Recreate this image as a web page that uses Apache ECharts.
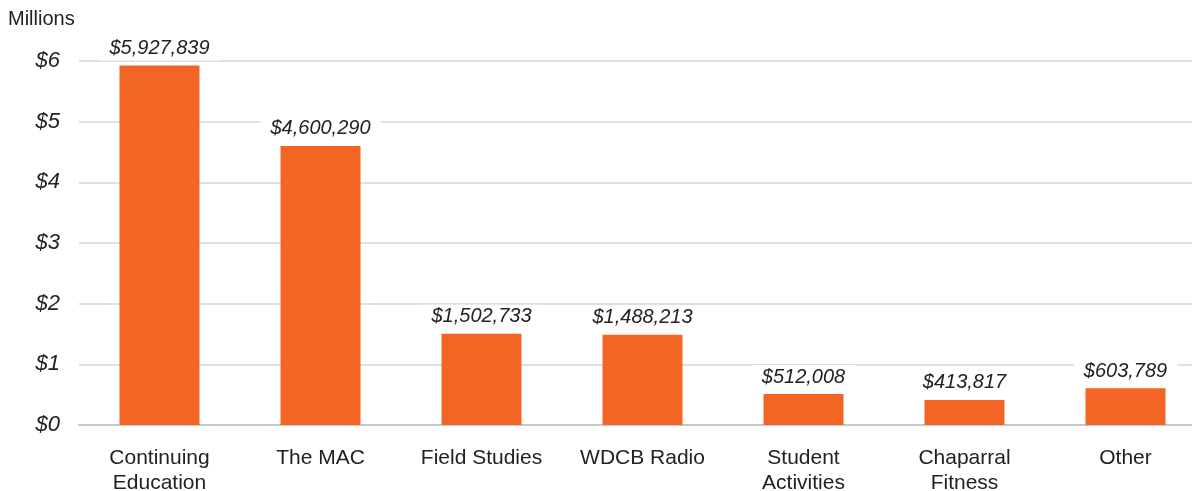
<!DOCTYPE html>
<html>
<head>
<meta charset="utf-8">
<style>
  html, body { margin: 0; height: 100%; background: #fff; }
  #chart { width: 1192px; height: 491px; }
</style>
</head>
<body>
<div id="chart"></div>
<script src="https://cdn.jsdelivr.net/npm/echarts@6/dist/echarts.min.js"></script>
<script>
// categories and amounts (USD)
var categories = ['Continuing\nEducation', 'The MAC', 'Field Studies', 'WDCB Radio', 'Student\nActivities', 'Chaparral\nFitness', 'Other'];
var amounts = [5927839, 4600290, 1502733, 1488213, 512008, 413817, 603789];
var yTicks = [0, 1000000, 2000000, 3000000, 4000000, 5000000, 6000000];

var font = '"Liberation Sans", Arial, sans-serif';
var chart = echarts.init(document.getElementById('chart'), null, { renderer: 'canvas' });

chart.setOption({
  animation: false,
  textStyle: { fontFamily: font },
  graphic: [{
    type: 'text', left: 8, top: 9,
    style: { text: 'Millions', fontSize: 20, fill: '#222', fontFamily: font }
  }],
  // plot runs past the right edge, as in the original
  grid: { left: 79, width: 1127, top: 61, height: 364, containLabel: false, outerBoundsMode: 'none' },
  xAxis: {
    type: 'category',
    data: categories,
    axisTick: { show: false },
    axisLine: { lineStyle: { color: '#c8c8c8', width: 2 } },
    axisLabel: { fontSize: 21, color: '#222', lineHeight: 25, margin: 21, interval: 0 }
  },
  yAxis: {
    type: 'value',
    min: 0,
    max: yTicks[yTicks.length - 1],
    interval: 1000000,
    axisLine: { show: false },
    axisTick: { show: false },
    splitLine: { lineStyle: { color: '#d4d4d4', width: 1.5 } },
    axisLabel: {
      fontSize: 22, fontStyle: 'italic', color: '#222', margin: 19,
      formatter: function (v) { return '$' + (v / 1000000); }
    }
  },
  series: [{
    type: 'bar',
    data: amounts,
    barWidth: 80,
    itemStyle: { color: '#F26524' },
    label: {
      show: true,
      position: 'top',
      distance: 5,
      fontSize: 20,
      fontStyle: 'italic',
      color: '#222',
      backgroundColor: '#fff',
      padding: [2, 10],
      formatter: function (p) { return '$' + p.value.toLocaleString('en-US'); }
    }
  }]
});

window.addEventListener('resize', chart.resize);
</script>
</body>
</html>
